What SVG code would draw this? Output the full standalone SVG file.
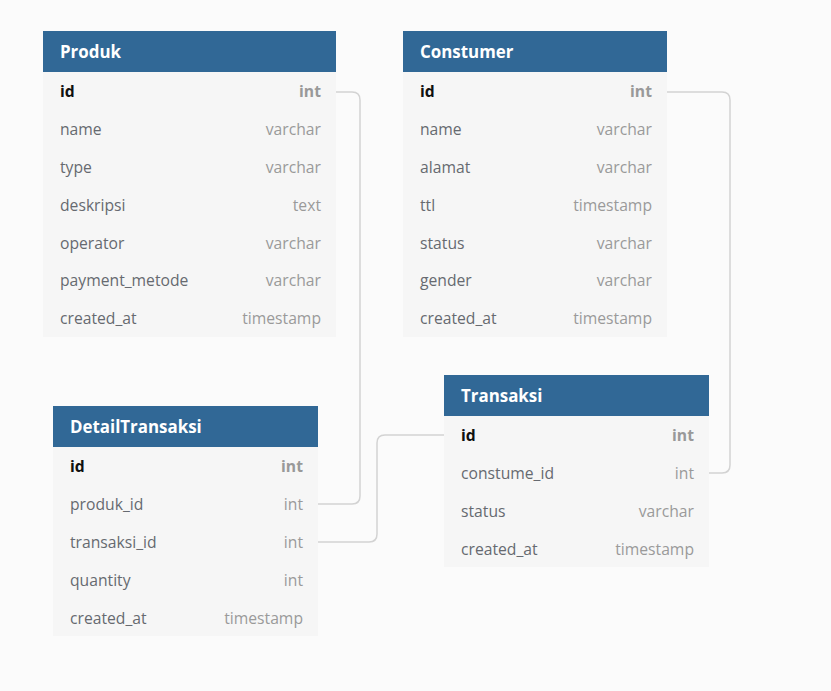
<svg xmlns="http://www.w3.org/2000/svg" width="831" height="691" viewBox="0 0 831 691">
<style>
.bg{fill:#fbfbfb}
.hdr{fill:#316896}
.body{fill:#f6f6f6}
.title{font-family:"Open Sans",sans-serif;font-size:16.9px;font-weight:bold;fill:#ffffff}
.fn{font-family:"Open Sans",sans-serif;font-size:15.7px;fill:#666a70}
.ft{font-family:"Open Sans",sans-serif;font-size:15.7px;fill:#9a9a9a;text-anchor:end}
.pk{font-weight:bold;fill:#111111}
.pkt{font-weight:bold;fill:#999999}
.conn{fill:none;stroke:#d3d3d3;stroke-width:1.5}
</style>
<rect class="bg" x="0" y="0" width="831" height="691"/>
<g id="connectors">
<path class="conn" d="M336,92 H352 Q360,92 360,100 V496 Q360,504 352,504 H318"/>
<path class="conn" d="M318,542 H369 Q377,542 377,534 V443 Q377,435 385,435 H444"/>
<path class="conn" d="M667,92 H722 Q730,92 730,100 V465 Q730,473 722,473 H709"/>
</g>
<g id="Produk">
<rect class="body" x="43" y="72" width="293" height="265"/>
<rect class="hdr" x="43" y="31" width="293" height="41"/>
<text class="title" x="60" y="58">Produk</text>
<text class="fn pk" x="60" y="97">id</text><text class="ft pkt" x="321" y="97">int</text>
<text class="fn" x="60" y="135">name</text><text class="ft" x="321" y="135">varchar</text>
<text class="fn" x="60" y="173">type</text><text class="ft" x="321" y="173">varchar</text>
<text class="fn" x="60" y="211">deskripsi</text><text class="ft" x="321" y="211">text</text>
<text class="fn" x="60" y="249">operator</text><text class="ft" x="321" y="249">varchar</text>
<text class="fn" x="60" y="286">payment_metode</text><text class="ft" x="321" y="286">varchar</text>
<text class="fn" x="60" y="324">created_at</text><text class="ft" x="321" y="324">timestamp</text>
</g>
<g id="Constumer">
<rect class="body" x="403" y="72" width="264" height="265"/>
<rect class="hdr" x="403" y="31" width="264" height="41"/>
<text class="title" x="420" y="58">Constumer</text>
<text class="fn pk" x="420" y="97">id</text><text class="ft pkt" x="652" y="97">int</text>
<text class="fn" x="420" y="135">name</text><text class="ft" x="652" y="135">varchar</text>
<text class="fn" x="420" y="173">alamat</text><text class="ft" x="652" y="173">varchar</text>
<text class="fn" x="420" y="211">ttl</text><text class="ft" x="652" y="211">timestamp</text>
<text class="fn" x="420" y="249">status</text><text class="ft" x="652" y="249">varchar</text>
<text class="fn" x="420" y="286">gender</text><text class="ft" x="652" y="286">varchar</text>
<text class="fn" x="420" y="324">created_at</text><text class="ft" x="652" y="324">timestamp</text>
</g>
<g id="Transaksi">
<rect class="body" x="444" y="416" width="265" height="151"/>
<rect class="hdr" x="444" y="375" width="265" height="41"/>
<text class="title" x="461" y="402">Transaksi</text>
<text class="fn pk" x="461" y="441">id</text><text class="ft pkt" x="694" y="441">int</text>
<text class="fn" x="461" y="479">constume_id</text><text class="ft" x="694" y="479">int</text>
<text class="fn" x="461" y="517">status</text><text class="ft" x="694" y="517">varchar</text>
<text class="fn" x="461" y="555">created_at</text><text class="ft" x="694" y="555">timestamp</text>
</g>
<g id="DetailTransaksi">
<rect class="body" x="53" y="447" width="265" height="189"/>
<rect class="hdr" x="53" y="406" width="265" height="41"/>
<text class="title" x="70" y="433">DetailTransaksi</text>
<text class="fn pk" x="70" y="472">id</text><text class="ft pkt" x="303" y="472">int</text>
<text class="fn" x="70" y="510">produk_id</text><text class="ft" x="303" y="510">int</text>
<text class="fn" x="70" y="548">transaksi_id</text><text class="ft" x="303" y="548">int</text>
<text class="fn" x="70" y="586">quantity</text><text class="ft" x="303" y="586">int</text>
<text class="fn" x="70" y="624">created_at</text><text class="ft" x="303" y="624">timestamp</text>
</g>
</svg>
